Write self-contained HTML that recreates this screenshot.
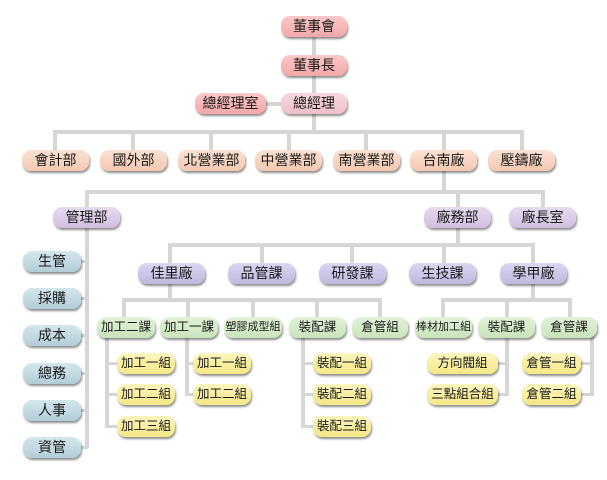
<!DOCTYPE html>
<html><head><meta charset="utf-8">
<style>
html,body{margin:0;padding:0;background:#fff;}
body{width:607px;height:480px;position:relative;overflow:hidden;font-family:"Liberation Sans","Noto Sans CJK TC","WenQuanYi Zen Hei",sans-serif;}
.l{position:absolute;background:#d6d6d6;}
.b{position:absolute;height:21px;line-height:21px;text-align:center;border-radius:9px;color:#1a1a1a;font-size:14px;white-space:nowrap;box-shadow:1px 2px 2px rgba(0,0,0,0.45);}
.pk{background:linear-gradient(#fcc8c8,#f4a7a9);}
.pk2{background:linear-gradient(#f9d8de,#f0c0ca);}
.pe{background:linear-gradient(#fbe2d3,#f4c8b1);}
.pu{background:linear-gradient(#e6dbef,#d0bedf);}
.pv{background:linear-gradient(#d9d7f1,#bdb9e0);}
.bl{background:linear-gradient(#d5e7ed,#b2cdd8);}
.gr{background:linear-gradient(#e3f2da,#c9e4ba);font-size:12.5px;}
.ye{background:linear-gradient(#fcf6c0,#f4e784);font-size:12.5px;}
.sm{font-size:11px;}
</style></head><body>
<!-- lines -->
<div class="l" style="left:312px;top:36px;width:4px;height:96px;"></div>
<div class="l" style="left:266px;top:102px;width:16px;height:4px;"></div>
<div class="l" style="left:53px;top:130px;width:471px;height:4px;"></div>
<div class="l" style="left:53px;top:130px;width:4px;height:20px;"></div>
<div class="l" style="left:131px;top:130px;width:4px;height:20px;"></div>
<div class="l" style="left:209px;top:130px;width:4px;height:20px;"></div>
<div class="l" style="left:287px;top:130px;width:4px;height:20px;"></div>
<div class="l" style="left:364px;top:130px;width:4px;height:20px;"></div>
<div class="l" style="left:442px;top:130px;width:4px;height:20px;"></div>
<div class="l" style="left:520px;top:130px;width:4px;height:20px;"></div>
<div class="l" style="left:442px;top:168px;width:4px;height:24px;"></div>
<div class="l" style="left:85px;top:190px;width:460px;height:4px;"></div>
<div class="l" style="left:85px;top:190px;width:4px;height:258px;"></div>
<div class="l" style="left:456px;top:190px;width:4px;height:56px;"></div>
<div class="l" style="left:541px;top:190px;width:4px;height:18px;"></div>
<!-- left ticks -->
<div class="l" style="left:80px;top:260px;width:8px;height:3px;"></div>
<div class="l" style="left:80px;top:297px;width:8px;height:3px;"></div>
<div class="l" style="left:80px;top:334px;width:8px;height:3px;"></div>
<div class="l" style="left:80px;top:372px;width:8px;height:3px;"></div>
<div class="l" style="left:80px;top:409px;width:8px;height:3px;"></div>
<div class="l" style="left:80px;top:446px;width:8px;height:3px;"></div>
<!-- level 2 -->
<div class="l" style="left:168px;top:243px;width:367px;height:4px;"></div>
<div class="l" style="left:168px;top:243px;width:4px;height:20px;"></div>
<div class="l" style="left:260px;top:243px;width:4px;height:20px;"></div>
<div class="l" style="left:350px;top:243px;width:4px;height:20px;"></div>
<div class="l" style="left:442px;top:243px;width:4px;height:20px;"></div>
<div class="l" style="left:531px;top:243px;width:4px;height:20px;"></div>
<div class="l" style="left:168px;top:281px;width:4px;height:20px;"></div>
<div class="l" style="left:531px;top:281px;width:4px;height:20px;"></div>
<!-- level 3 -->
<div class="l" style="left:122px;top:298px;width:260px;height:4px;"></div>
<div class="l" style="left:122px;top:298px;width:4px;height:20px;"></div>
<div class="l" style="left:186px;top:298px;width:4px;height:20px;"></div>
<div class="l" style="left:251px;top:298px;width:4px;height:20px;"></div>
<div class="l" style="left:315px;top:298px;width:4px;height:20px;"></div>
<div class="l" style="left:378px;top:298px;width:4px;height:20px;"></div>
<div class="l" style="left:441px;top:298px;width:131px;height:4px;"></div>
<div class="l" style="left:441px;top:298px;width:4px;height:20px;"></div>
<div class="l" style="left:505px;top:298px;width:4px;height:20px;"></div>
<div class="l" style="left:568px;top:298px;width:4px;height:20px;"></div>
<!-- level 4 connectors -->
<div class="l" style="left:105px;top:336px;width:4px;height:92px;"></div>
<div class="l" style="left:105px;top:362px;width:12px;height:3px;"></div>
<div class="l" style="left:105px;top:393px;width:12px;height:3px;"></div>
<div class="l" style="left:105px;top:425px;width:12px;height:3px;"></div>
<div class="l" style="left:185px;top:336px;width:4px;height:60px;"></div>
<div class="l" style="left:185px;top:362px;width:8px;height:3px;"></div>
<div class="l" style="left:185px;top:393px;width:8px;height:3px;"></div>
<div class="l" style="left:301px;top:336px;width:4px;height:92px;"></div>
<div class="l" style="left:301px;top:362px;width:12px;height:3px;"></div>
<div class="l" style="left:301px;top:393px;width:12px;height:3px;"></div>
<div class="l" style="left:301px;top:425px;width:12px;height:3px;"></div>
<div class="l" style="left:505px;top:336px;width:4px;height:60px;"></div>
<div class="l" style="left:498px;top:362px;width:9px;height:3px;"></div>
<div class="l" style="left:498px;top:393px;width:9px;height:3px;"></div>
<div class="l" style="left:590px;top:336px;width:4px;height:60px;"></div>
<div class="l" style="left:581px;top:362px;width:10px;height:3px;"></div>
<div class="l" style="left:581px;top:393px;width:10px;height:3px;"></div>

<!-- boxes -->
<div class="b pk" style="left:281px;top:16px;width:66px;">董事會</div>
<div class="b pk" style="left:281px;top:55px;width:66px;">董事長</div>
<div class="b pk" style="left:195px;top:93px;width:71px;">總經理室</div>
<div class="b pk2" style="left:281px;top:93px;width:66px;">總經理</div>

<div class="b pe" style="left:22px;top:150px;width:67px;">會計部</div>
<div class="b pe" style="left:100px;top:150px;width:67px;">國外部</div>
<div class="b pe" style="left:178px;top:150px;width:67px;">北營業部</div>
<div class="b pe" style="left:255px;top:150px;width:67px;">中營業部</div>
<div class="b pe" style="left:333px;top:150px;width:67px;">南營業部</div>
<div class="b pe" style="left:410px;top:150px;width:67px;">台南廠</div>
<div class="b pe" style="left:488px;top:150px;width:67px;">壓鑄廠</div>

<div class="b pu" style="left:53px;top:207px;width:67px;">管理部</div>
<div class="b pu" style="left:424px;top:207px;width:67px;">廠務部</div>
<div class="b pu" style="left:509px;top:207px;width:67px;">廠長室</div>

<div class="b bl" style="left:23px;top:251px;width:58px;">生管</div>
<div class="b bl" style="left:23px;top:288px;width:58px;">採購</div>
<div class="b bl" style="left:23px;top:325px;width:58px;">成本</div>
<div class="b bl" style="left:23px;top:363px;width:58px;">總務</div>
<div class="b bl" style="left:23px;top:400px;width:58px;">人事</div>
<div class="b bl" style="left:23px;top:437px;width:58px;">資管</div>

<div class="b pv" style="left:138px;top:263px;width:67px;">佳里廠</div>
<div class="b pv" style="left:228px;top:263px;width:67px;">品管課</div>
<div class="b pv" style="left:319px;top:263px;width:67px;">研發課</div>
<div class="b pv" style="left:409px;top:263px;width:67px;">生技課</div>
<div class="b pv" style="left:500px;top:263px;width:67px;">學甲廠</div>

<div class="b gr" style="left:97px;top:317px;width:58px;">加工二課</div>
<div class="b gr" style="left:160px;top:317px;width:58px;">加工一課</div>
<div class="b gr sm" style="left:224px;top:317px;width:58px;">塑膠成型組</div>
<div class="b gr" style="left:289px;top:317px;width:57px;">裝配課</div>
<div class="b gr" style="left:352px;top:317px;width:56px;">倉管組</div>
<div class="b gr sm" style="left:415px;top:317px;width:57px;">棒材加工組</div>
<div class="b gr" style="left:478px;top:317px;width:57px;">裝配課</div>
<div class="b gr" style="left:541px;top:317px;width:56px;">倉管課</div>

<div class="b ye" style="left:117px;top:353px;width:58px;">加工一組</div>
<div class="b ye" style="left:117px;top:384px;width:58px;">加工二組</div>
<div class="b ye" style="left:117px;top:416px;width:58px;">加工三組</div>
<div class="b ye" style="left:193px;top:353px;width:58px;">加工一組</div>
<div class="b ye" style="left:193px;top:384px;width:58px;">加工二組</div>
<div class="b ye" style="left:313px;top:353px;width:58px;">裝配一組</div>
<div class="b ye" style="left:313px;top:384px;width:58px;">裝配二組</div>
<div class="b ye" style="left:313px;top:416px;width:58px;">裝配三組</div>
<div class="b ye" style="left:427px;top:353px;width:71px;">方向閥組</div>
<div class="b ye" style="left:427px;top:384px;width:71px;">三點組合組</div>
<div class="b ye" style="left:522px;top:353px;width:59px;">倉管一組</div>
<div class="b ye" style="left:522px;top:384px;width:59px;">倉管二組</div>
</body></html>
